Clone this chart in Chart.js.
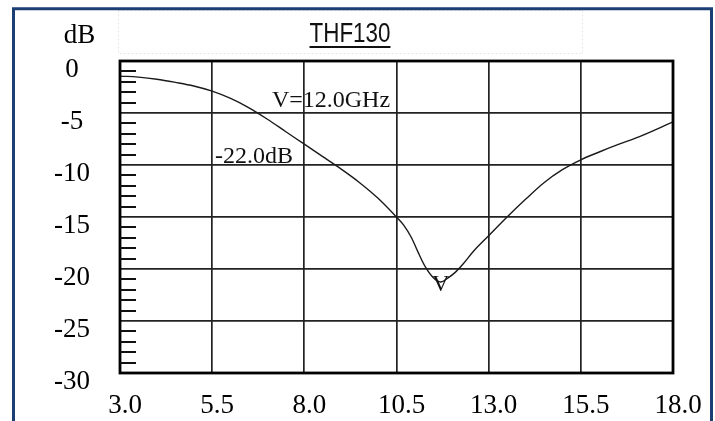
<!DOCTYPE html>
<html><head><meta charset="utf-8">
<script src="https://cdn.jsdelivr.net/npm/chart.js@4.4.0/dist/chart.umd.min.js"></script>
<style>html,body{margin:0;padding:0;background:#fff;overflow:hidden}canvas{display:block}</style>
</head><body>
<canvas id="c" width="715" height="421"></canvas>
<script>
// ---- data ----
const freqGHz = [3.0, 3.5, 4.0, 4.5, 5.0, 5.5, 6.0, 6.5, 7.0, 7.5, 8.0, 8.5, 9.0, 9.5, 10.0, 10.5, 10.7, 10.9, 11.1, 11.3, 11.5, 11.7, 11.9, 12.1, 12.3, 12.6, 13.0, 13.5, 14.0, 14.5, 15.0, 15.5, 16.0, 16.5, 17.0, 17.5, 18.0];
const lossDb  = [-1.45, -1.55, -1.75, -2.05, -2.4, -2.9, -3.6, -4.5, -5.6, -6.8, -8.0, -9.2, -10.4, -11.7, -13.2, -15.0, -15.8, -16.95, -18.5, -19.9, -20.85, -21.25, -20.85, -20.3, -19.55, -18.25, -16.8, -15.0, -13.3, -11.7, -10.45, -9.5, -8.75, -8.05, -7.4, -6.65, -5.85];
const xTickLabels = ['3.0', '5.5', '8.0', '10.5', '13.0', '15.5', '18.0'];
const yTickLabels = ['0', '-5', '-10', '-15', '-20', '-25', '-30'];
const chartTitle = 'THF130';
const yUnit = 'dB';
const noteTexts = ['V=12.0GHz', '-22.0dB'];
const noteX = [7.12, 5.58];
const noteY = [-4.39, -9.84];
const markerText = 'V';
const markerDb = -22.0;

const xTickValues = xTickLabels.map(Number);
const yTickValues = yTickLabels.map(Number).sort((a, b) => a - b);
const SERIF = "'Liberation Serif','Times New Roman',serif";
const SANS = "'Liberation Sans',Arial,sans-serif";

const decor = {
  id: 'decor',
  beforeDraw(chart) {
    const ctx = chart.ctx;
    ctx.save();
    ctx.fillStyle = '#fff';
    ctx.fillRect(0, 0, chart.width, chart.height);
    // faint dotted title box
    ctx.strokeStyle = '#e6e6e6';
    ctx.lineWidth = 1;
    ctx.setLineDash([2, 2]);
    ctx.strokeRect(118.5, 10.5, 464, 43);
    ctx.setLineDash([]);
    // navy frame
    ctx.strokeStyle = '#1b3f73';
    ctx.lineWidth = 3;
    ctx.strokeRect(13.5, 8.75, 698, 460);
    ctx.restore();
  },
  afterDraw(chart) {
    const ctx = chart.ctx;
    const a = chart.chartArea;
    const xs = chart.scales.x, ys = chart.scales.y;
    ctx.save();
    // plot frame
    ctx.strokeStyle = '#000';
    ctx.lineWidth = 2.8;
    ctx.strokeRect(a.left, a.top, a.right - a.left, a.bottom - a.top);
    // minor ticks on y axis (1 dB)
    ctx.lineWidth = 2;
    ctx.strokeStyle = '#111';
    for (let v = -29; v < 0; v++) {
      if (v % 5 === 0) continue;
      const y = Math.round(ys.getPixelForValue(v));
      ctx.beginPath();
      ctx.moveTo(a.left, y);
      ctx.lineTo(a.left + 16, y);
      ctx.stroke();
    }
    // unit label
    ctx.fillStyle = '#000';
    ctx.font = '27px ' + SERIF;
    ctx.textAlign = 'center';
    ctx.textBaseline = 'alphabetic';
    ctx.fillText(yUnit, 79.5, 43);
    // title (narrow sans), underlined
    ctx.save();
    ctx.font = '27px ' + SANS;
    const sx = 0.83;
    const tw = ctx.measureText(chartTitle).width * sx;
    const cx = 350;
    ctx.translate(cx, 41.5);
    ctx.scale(sx, 1);
    ctx.fillStyle = '#111';
    ctx.textAlign = 'center';
    ctx.fillText(chartTitle, 0, 0);
    ctx.restore();
    ctx.fillStyle = '#111';
    ctx.fillRect(cx - tw / 2, 46, tw, 2);
    // notes
    ctx.fillStyle = '#111';
    ctx.font = '24px ' + SERIF;
    ctx.textAlign = 'left';
    for (let i = 0; i < noteTexts.length; i++) {
      ctx.fillText(noteTexts[i], xs.getPixelForValue(noteX[i]), ys.getPixelForValue(noteY[i]));
    }
    // minimum marker
    let mi = 0;
    lossDb.forEach((v, i) => { if (v < lossDb[mi]) mi = i; });
    ctx.textAlign = 'center';
    ctx.fillText(markerText, xs.getPixelForValue(freqGHz[mi]), ys.getPixelForValue(markerDb) + 1);
    ctx.restore();
  }
};

new Chart(document.getElementById('c'), {
  type: 'line',
  data: {
    datasets: [{
      data: freqGHz.map((x, i) => ({ x: x, y: lossDb[i] })),
      borderColor: '#1a1a1a',
      borderWidth: 1.4,
      pointRadius: 0,
      fill: false,
      tension: 0.35
    }]
  },
  options: {
    responsive: false,
    animation: false,
    devicePixelRatio: 1,
    events: [],
    layout: { padding: { left: 27, right: 42, top: 61, bottom: 0 } },
    plugins: {
      legend: { display: false },
      tooltip: { enabled: false },
      title: { display: false }
    },
    scales: {
      x: {
        type: 'linear', position: 'bottom', min: 3, max: 18,
        afterBuildTicks: s => { s.ticks = xTickValues.map(v => ({ value: v })); },
        afterFit: s => { s.height = 48; },
        ticks: {
          callback: (v) => xTickLabels[xTickValues.indexOf(v)],
          font: { family: SERIF, size: 27 }, color: '#000',
          padding: 17, labelOffset: 5, maxRotation: 0, autoSkip: false
        },
        grid: { color: '#222', lineWidth: 1.7, drawTicks: false },
        border: { display: false }
      },
      y: {
        type: 'linear', position: 'left', min: -30, max: 0,
        afterBuildTicks: s => { s.ticks = yTickValues.map(v => ({ value: v })); },
        afterFit: s => { s.width = 93; },
        ticks: {
          callback: (v) => yTickLabels[yTickLabels.map(Number).indexOf(v)],
          font: { family: SERIF, size: 27 }, color: '#000',
          padding: 30, labelOffset: 9, crossAlign: 'center', autoSkip: false
        },
        grid: { color: '#222', lineWidth: 1.7, drawTicks: false },
        border: { display: false }
      }
    }
  },
  plugins: [decor]
});
</script>
</body></html>
